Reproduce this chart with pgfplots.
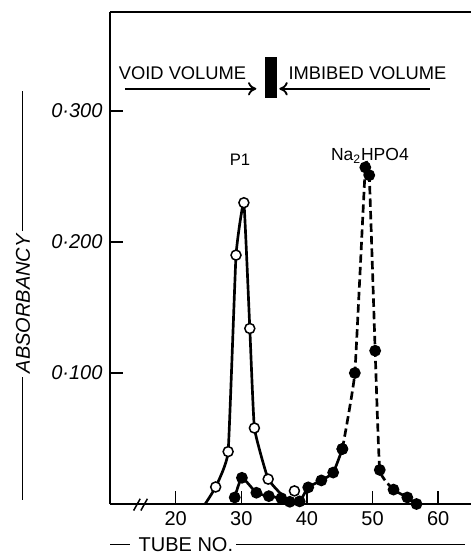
\documentclass[border=0pt]{standalone}
\usepackage{fontspec}
\setmainfont{Liberation Sans}
\usepackage{pgfplots}
\pgfplotsset{compat=1.18}
\usetikzlibrary{arrows.meta}

\pgfplotstableread{
x y
24.5 0
26.1 0.013
28.0 0.040
29.2 0.190
30.4 0.230
31.3 0.134
32.0 0.058
34.1 0.019
37.0 0.003
39.2 0
}\poneline
\pgfplotstableread{
x y
26.1 0.013
28.0 0.040
29.2 0.190
30.4 0.230
31.3 0.134
32.0 0.058
34.1 0.019
38.1 0.010
}\ponepts
\pgfplotstableread{
x y
29.0 0.005
30.1 0.020
32.3 0.0086
34.2 0.006
36.1 0.0044
37.4 0.0017
38.9 0.002
40.2 0.0127
42.2 0.018
44.0 0.024
45.4 0.042
}\nalow
\pgfplotstableread{
x y
45.4 0.042
47.3 0.100
48.9 0.257
49.5 0.251
50.4 0.117
51.1 0.026
53.2 0.011
55.3 0.005
56.7 0
}\nahigh

\begin{document}
\begin{tikzpicture}
\begin{axis}[
  scale only axis,
  width=216.6pt, height=295.2pt,
  xmin=10, xmax=65, ymin=0, ymax=0.3756,
  axis x line=box, axis y line=left,
  axis line style={line width=0.9pt, -},
  xtick={20,30,40,50,60},
  ytick={0.1,0.2,0.3},
  yticklabels={0·100,0·200,0·300},
  /pgf/number format/assume math mode=true,
  tick pos=left,
  tick align=inside,
  major tick length=8pt,
  tick style={line width=0.9pt, black},
  xticklabel style={font=\fontsize{12}{14}\selectfont, yshift=-1pt},
  yticklabel style={font=\fontsize{12}{14}\selectfont\itshape, xshift=-1pt},
  clip=false,
]
% P1 (open circles)
\addplot[line width=1.6pt, smooth, tension=0.2, mark=none] table {\poneline};
\addplot[only marks, mark=*, mark size=3pt, mark options={fill=white, draw=black, line width=0.9pt}] table {\ponepts};
% Na2HPO4 (filled circles)
\addplot[line width=1.6pt, smooth, tension=0.3, mark=*, mark size=2.7pt, mark options={solid, fill=black}] table {\nalow};
\addplot[line width=1.6pt, dashed, dash pattern=on 5pt off 2.5pt, smooth, tension=0.2, mark=*, mark size=2.7pt, mark options={solid, fill=black}] table {\nahigh};

% axis break mark
\draw[line width=0.9pt] (axis cs:13.6,-0.005) -- (axis cs:14.6,0.004);
\draw[line width=0.9pt] (axis cs:14.7,-0.005) -- (axis cs:15.7,0.004);

% annotations
\node[font=\fontsize{11}{13}\selectfont] at (axis cs:21.05,0.329) {VOID VOLUME};
\node[font=\fontsize{11}{13}\selectfont] at (axis cs:49.23,0.329) {IMBIBED VOLUME};
\draw[line width=1.1pt, -{To[length=5pt, width=8pt]}] (axis cs:12.3,0.317) -- (axis cs:32.3,0.317);
\draw[line width=1.1pt, -{To[length=5pt, width=8pt]}] (axis cs:58.75,0.317) -- (axis cs:35.8,0.317);
\fill[black] (axis cs:33.6,0.310) rectangle (axis cs:35.45,0.341);
\node[font=\fontsize{10}{12}\selectfont] at (axis cs:29.8,0.263) {P1};
\node[font=\fontsize{10.5}{12}\selectfont] at (axis cs:49.6,0.266) {Na\textsubscript{2}HPO4};
\end{axis}
% axis titles with the rules beside them
\node[rotate=90, font=\fontsize{12}{14}\selectfont\itshape, inner sep=0pt] at (-52.2pt,125.1pt)
  {\rule[0.33em]{74pt}{0.8pt}\,ABSORBANCY\,\rule[0.33em]{84pt}{0.8pt}};
\node[anchor=west, font=\fontsize{12}{14}\selectfont, inner sep=0pt] at (0pt,-24.6pt)
  {\rule[0.33em]{12pt}{0.8pt}\hspace{5pt}TUBE NO.\hspace{2pt}\rule[0.33em]{137pt}{0.8pt}};
\pgfresetboundingbox
\path (-66pt,-30.6pt) rectangle (216.6pt,302.4pt);
\end{tikzpicture}
\end{document}
